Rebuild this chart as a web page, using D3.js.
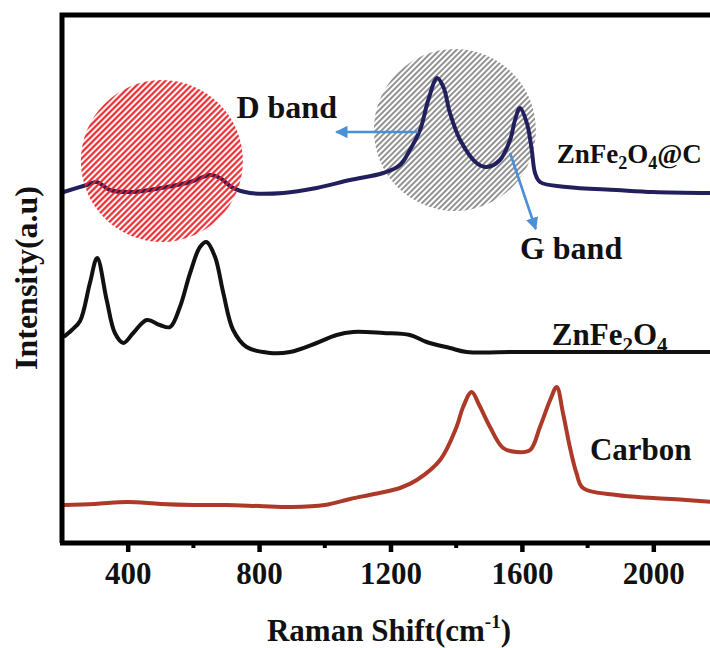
<!DOCTYPE html>
<html><head><meta charset="utf-8">
<script src="https://cdn.jsdelivr.net/npm/d3@7"></script>
<style>
html,body{margin:0;padding:0;background:#fff;}
svg{display:block;}
text{font-family:"Liberation Serif","Times New Roman",serif;font-weight:bold;fill:#111;}
</style></head>
<body>
<svg id="c" width="710" height="648"></svg>
<script>
// ---- data (Raman shift in cm^-1, intensity in arbitrary units) ----
const compositeShift = [205,275,306,346,417,519,590,651,681,721,772,874,975,1077,1178,1229,1259,1290,1315,1342,1361,1381,1412,1462,1493,1533,1564,1579,1594,1615,1630,1640,1655,1736,1888,2000,2180];
const compositeInt   = [351,358,361,353,351,356,361,368,365,355,350,350,355,363,370,378,393,413,443,465,456,430,403,380,376,383,403,423,435,420,393,370,361,356,353,351,350];

const ferriteShift = [205,230,255,285,307,336,361,387,417,458,498,529,559,590,620,640,666,691,721,762,833,894,975,1036,1086,1178,1259,1310,1381,1432,1584,1800,2000,2180];
const ferriteInt   = [206,213,222,260,285,243,210,200,210,223,218,216,236,270,296,301,286,250,213,196,190,191,200,208,211,210,208,201,195,191,191,191,191,191];

const carbonShift = [205,300,400,500,600,700,800,900,1000,1077,1150,1229,1280,1351,1401,1421,1447,1470,1503,1543,1584,1625,1655,1686,1706,1725,1746,1766,1786,1888,2000,2100,2180];
const carbonInt   = [38,39,41,39,38,38,37,36,38,44,49,55,63,83,116,136,151,138,116,95,91,93,116,143,156,130,96,70,55,48,45,43,41];

const xTicks = [400,800,1200,1600,2000];
const xMinorTicks = [600,1000,1400,1800];

// annotation anchors (data coordinates)
const labelNames = ["D band","G band","Carbon"];
const labelAnchors = [[731,425],[1594,284],[1807,83]];
const dArrow = [[1284,411],[1035,411]];
const gArrow = [[1564,390],[1642,314]];
const redCircle = [504,382];
const grayCircle = [1396,413];

// ---- layout ----
const svg = d3.select("#c");
const padL = 62, padT = 15, padB = 543;
const x = d3.scaleLinear().domain([200,2200]).range([padL, padL + 2000*0.3285]);
const y = d3.scaleLinear().domain([0,528]).range([padB, padT]);

const defs = svg.append("defs");
function hatch(id, color, w, sw){
  const p = defs.append("pattern").attr("id",id).attr("patternUnits","userSpaceOnUse")
    .attr("width",w).attr("height",w).attr("patternTransform","rotate(45)");
  p.append("line").attr("x1",w/2).attr("x2",w/2).attr("y1",0).attr("y2",w)
    .attr("stroke",color).attr("stroke-width",sw);
}
hatch("hRed","#ec2027",4.3,2.1);
hatch("hGray","#4a4a4a",4.0,1.2);
defs.append("marker").attr("id","arr").attr("viewBox","0 0 10 10").attr("refX",9).attr("refY",5)
  .attr("markerWidth",5).attr("markerHeight",4.8).attr("orient","auto").attr("markerUnits","strokeWidth")
  .append("path").attr("d","M0,0 L10,5 L0,10 Z").attr("fill","#4a8fd8");

defs.append("clipPath").attr("id","plot")
  .append("rect").attr("x",padL).attr("y",padT).attr("width",710-padL).attr("height",padB-padT);

// gray hatched circle (behind trace)
svg.append("circle").attr("cx",x(grayCircle[0])).attr("cy",y(grayCircle[1])).attr("r",81)
  .attr("fill","url(#hGray)");

// traces
const line = d3.line().x(d=>x(d[0])).y(d=>y(d[1])).curve(d3.curveCatmullRom.alpha(0.5));
const series = [
  {s:compositeShift, v:compositeInt, c:"#22205c"},
  {s:ferriteShift, v:ferriteInt, c:"#111111"},
  {s:carbonShift, v:carbonInt, c:"#ad3a28"}
];
const g = svg.append("g").attr("clip-path","url(#plot)");
series.forEach(sr=>{
  g.append("path").datum(d3.zip(sr.s, sr.v)).attr("d",line)
   .attr("fill","none").attr("stroke",sr.c).attr("stroke-width",4).attr("stroke-linejoin","round");
});

// red hatched circle (over trace)
svg.append("circle").attr("cx",x(redCircle[0])).attr("cy",y(redCircle[1])).attr("r",81)
  .attr("fill","url(#hRed)");

// arrows
[dArrow,gArrow].forEach(a=>{
  svg.append("line").attr("x1",x(a[0][0])).attr("y1",y(a[0][1])).attr("x2",x(a[1][0])).attr("y2",y(a[1][1]))
    .attr("stroke","#4a8fd8").attr("stroke-width",2.6).attr("marker-end","url(#arr)");
});

// frame
svg.append("path").attr("d",`M${padL},${padB} L${padL},${padT} L715,${padT}`)
  .attr("fill","none").attr("stroke","#000").attr("stroke-width",5);

// x axis
const xAxis = d3.axisBottom(x).tickValues(xTicks).tickSize(9).tickPadding(10).tickFormat(d3.format("d"));
const ax = svg.append("g").attr("transform",`translate(0,${padB})`).call(xAxis);
ax.select(".domain").attr("stroke","#000").attr("stroke-width",5).attr("d",`M${padL-2},0H715`);
ax.selectAll(".tick line").attr("stroke","#000").attr("stroke-width",4.5);
ax.selectAll(".tick text").attr("font-size",31).attr("font-family","Liberation Serif").attr("font-weight","bold").attr("fill","#111").attr("dy","0.72em");
svg.append("g").selectAll("line").data(xMinorTicks).join("line")
  .attr("x1",d=>x(d)).attr("x2",d=>x(d)).attr("y1",padB).attr("y2",padB+5)
  .attr("stroke","#000").attr("stroke-width",4);

// labels
labelNames.forEach((n,i)=>{
  svg.append("text").attr("x",x(labelAnchors[i][0])).attr("y",y(labelAnchors[i][1]))
    .attr("font-size", i===2 ? 31 : 32).text(n);
});
// ZnFe2O4@C
const t1 = svg.append("text").attr("x",x(1706)).attr("y",y(380)).attr("font-size",27);
t1.append("tspan").text("ZnFe");
t1.append("tspan").attr("font-size",18).attr("dy",6).text("2");
t1.append("tspan").attr("dy",-6).text("O");
t1.append("tspan").attr("font-size",18).attr("dy",6).text("4");
t1.append("tspan").attr("dy",-6).text("@C");
// ZnFe2O4
const t2 = svg.append("text").attr("x",x(1691)).attr("y",y(198)).attr("font-size",31);
t2.append("tspan").text("ZnFe");
t2.append("tspan").attr("font-size",21).attr("dy",7).text("2");
t2.append("tspan").attr("dy",-7).text("O");
t2.append("tspan").attr("font-size",21).attr("dy",7).text("4");

// axis titles
const xt = svg.append("text").attr("x",389).attr("y",641).attr("text-anchor","middle").attr("font-size",31);
xt.append("tspan").text("Raman Shift(cm");
xt.append("tspan").attr("font-size",19).attr("dy",-13).text("-1");
xt.append("tspan").attr("dy",13).text(")");

svg.append("text").attr("transform","translate(37,278) rotate(-90)").attr("text-anchor","middle")
  .attr("font-size",32).text("Intensity(a.u)");
</script>
</body></html>
